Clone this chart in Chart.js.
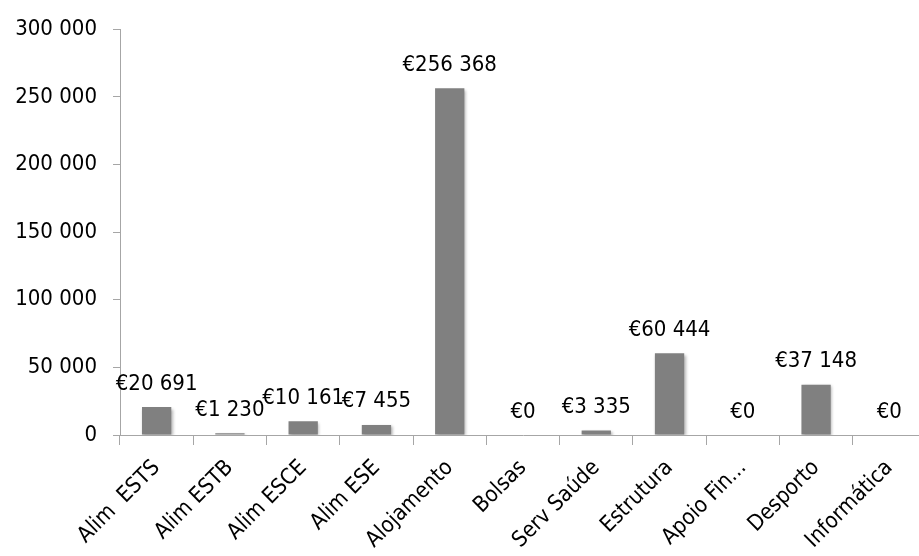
<!DOCTYPE html>
<html><head><meta charset="utf-8">
<script src="https://cdn.jsdelivr.net/npm/chart.js@4/dist/chart.umd.min.js"></script>
<style>html,body{margin:0;padding:0;background:#fff;overflow:hidden}#wrap{width:926px;height:556px;position:relative}</style>
</head><body><div id="wrap"><canvas id="c"></canvas></div>
<script>
const categories = ["Alim  ESTS","Alim ESTB","Alim ESCE","Alim ESE","Alojamento","Bolsas","Serv Saúde","Estrutura","Apoio Fin...","Desporto","Informática"];
const values = [20691,1230,10161,7455,256368,0,3335,60444,0,37148,0];
const yTicks = [0,50000,100000,150000,200000,250000,300000];

function fmt(n){ return String(n).replace(/\B(?=(\d{3})+(?!\d))/g,' '); }
const FONT = "'DejaVu Sans Condensed', 'DejaVu Sans', Verdana, sans-serif";
const AXIS = '#a6a6a6';

const labelPlugin = {
  id: 'valLabels',
  beforeDatasetDraw(chart){ const c=chart.ctx; c.save(); c.shadowColor='rgba(0,0,0,0.3)'; c.shadowBlur=3; c.shadowOffsetX=1.5; c.shadowOffsetY=1.5; },
  afterDatasetDraw(chart){ chart.ctx.restore(); },
  afterDatasetsDraw(chart){
    const c = chart.ctx; const meta = chart.getDatasetMeta(0);
    c.save();
    c.font = "22px " + FONT; c.fillStyle = '#000'; c.textAlign='center'; c.textBaseline='alphabetic';
    meta.data.forEach((bar,i)=>{ c.fillText('€' + fmt(values[i]), bar.x, bar.y - 17.5); });
    c.restore();
  }
};

new Chart(document.getElementById('c'), {
  type: 'bar',
  data: { labels: categories, datasets: [{ data: values, backgroundColor: '#808080', borderWidth: 0, barPercentage: 0.4, categoryPercentage: 1.0 }] },
  options: {
    responsive: true, maintainAspectRatio: false, animation: false,
    layout: { padding: { top: 27, right: 0, bottom: 0, left: 0 } },
    plugins: { legend: { display: false }, tooltip: { enabled: false } },
    scales: {
      x: {
        afterFit(s){ s.height = 121; },
        grid: { display: true, drawOnChartArea: false, drawTicks: true, tickLength: 10, color: AXIS, offset: true },
        border: { display: true, color: AXIS, width: 1 },
        ticks: { autoSkip: false, minRotation: 45, maxRotation: 45, color: '#000', font: { family: FONT, size: 22 }, padding: 10 }
      },
      y: {
        min: 0, max: 300000,
        afterFit(s){ s.width = 120; },
        afterBuildTicks(s){ s.ticks = yTicks.map(v=>({value:v})); },
        grid: { display: true, drawOnChartArea: false, drawTicks: true, tickLength: 7, color: AXIS },
        border: { display: true, color: AXIS, width: 1 },
        ticks: { color: '#000', font: { family: FONT, size: 22 }, padding: 16, callback: v => fmt(v) }
      }
    }
  },
  plugins: [labelPlugin]
});
</script></body></html>
